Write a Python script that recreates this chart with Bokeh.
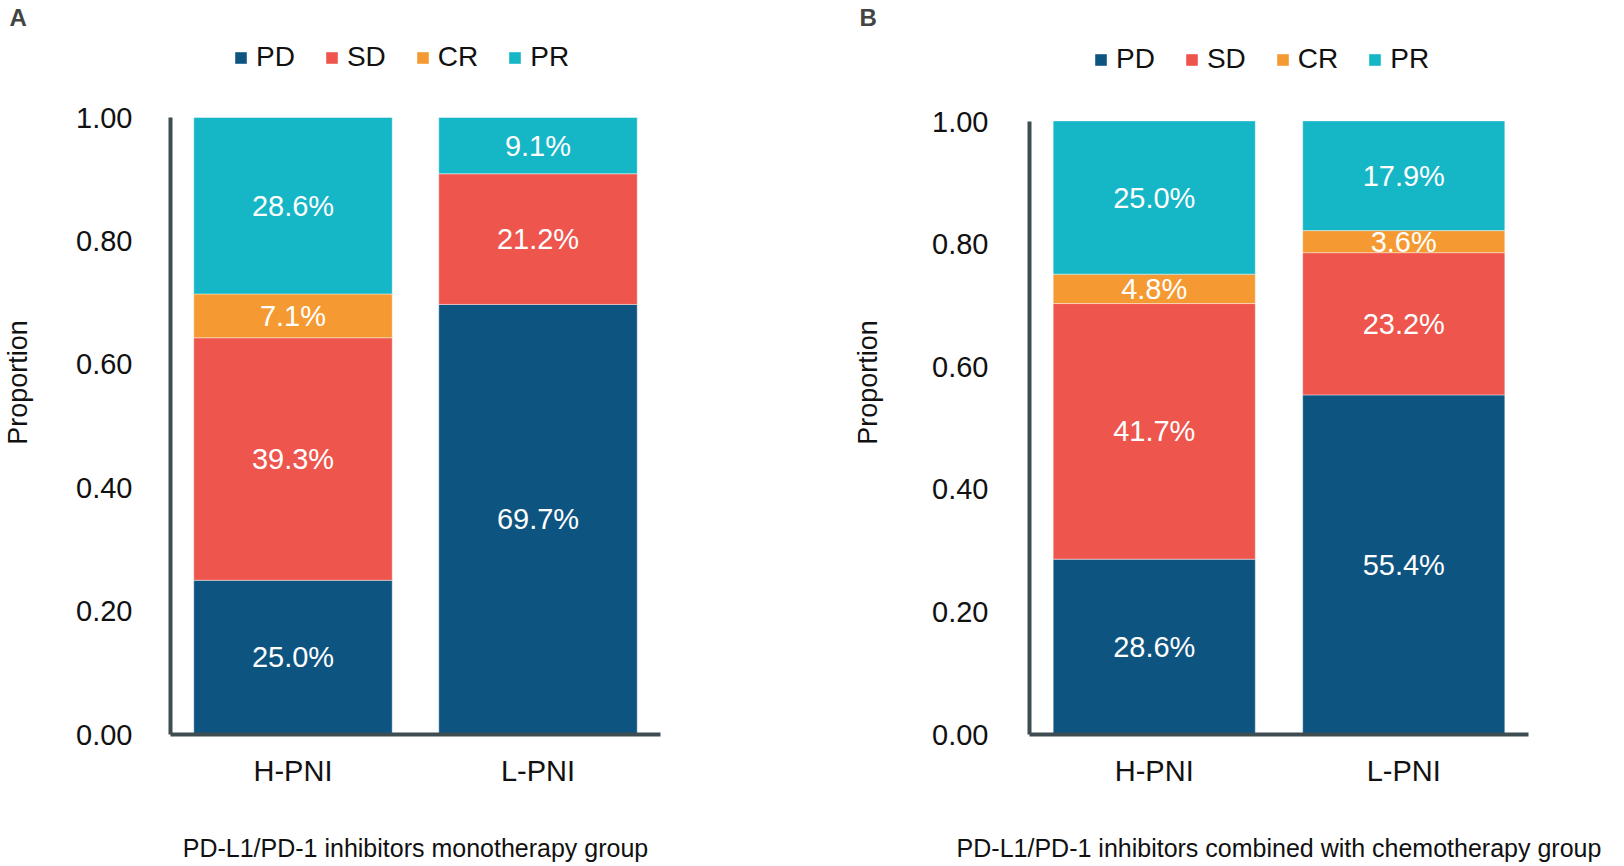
from bokeh.plotting import figure
from bokeh.models import (ColumnDataSource, FactorRange, Range1d, FixedTicker, Legend,
                          LegendItem, LabelSet, CustomJSTickFormatter)
from bokeh.core.properties import value
from bokeh.layouts import row
from bokeh.embed import file_html
from bokeh.resources import INLINE

# ---------------- data ----------------
categories = ["H-PNI", "L-PNI"]
responses = ["PD", "SD", "CR", "PR"]
colors = ["#0E5480", "#EE554C", "#F59A32", "#15B6C6"]

mono_PD = [0.250, 0.697]
mono_SD = [0.393, 0.212]
mono_CR = [0.071, 0.000]
mono_PR = [0.286, 0.091]

combo_PD = [0.286, 0.554]
combo_SD = [0.417, 0.232]
combo_CR = [0.048, 0.036]
combo_PR = [0.250, 0.179]

y_ticks = [0.0, 0.2, 0.4, 0.6, 0.8, 1.0]

panel_letters = ["A", "B"]
group_titles = ["PD-L1/PD-1 inhibitors monotherapy group",
                "PD-L1/PD-1 inhibitors combined with chemotherapy group"]

FONT = "Liberation Sans"
AXIS_COLOR = "#3E4D52"

HEIGHT = 864
FRAME_TOP = 30        # px from figure top to top of plotting frame
BORDER_BOTTOM = 130   # px from x axis line to figure bottom


def make_panel(series, letter, title, width, border_left, unit_top, legend_x, legend_mid,
               tick_standoff, ylabel_standoff, letter_offset):
    frame_bottom = HEIGHT - BORDER_BOTTOM
    frame_h = frame_bottom - FRAME_TOP
    unit_px = frame_bottom - unit_top                     # pixels for 0 -> 1
    y_max = frame_h / unit_px                             # room above 1.0 for legend

    data = {"cat": categories}
    for r, vals in zip(responses, series):
        data[r] = vals
    src = ColumnDataSource(data)

    p = figure(x_range=FactorRange(*categories, range_padding=0),
               y_range=Range1d(0, y_max), width=width, height=HEIGHT,
               output_backend="svg", toolbar_location=None,
               min_border_left=border_left, min_border_right=width - border_left - 499,
               min_border_top=FRAME_TOP, min_border_bottom=BORDER_BOTTOM)
    p.outline_line_color = None
    p.xgrid.grid_line_color = None
    p.ygrid.grid_line_color = None
    p.background_fill_color = "white"

    # panel letter as the plot title
    p.title.text = letter
    p.title.text_font = FONT
    p.title.text_font_size = "24px"
    p.title.text_font_style = "bold"
    p.title.align = "left"
    p.title.offset = letter_offset
    p.title.standoff = 0

    rends = p.vbar_stack(responses, x="cat", width=0.81, color=colors, source=src,
                         line_color="white", line_width=0.6, line_alpha=0.7)

    # percentage labels at segment centres
    xs, ys, txt = [], [], []
    for i, c in enumerate(categories):
        base = 0.0
        for vals in series:
            v = vals[i]
            if v > 0:
                xs.append(c)
                ys.append(base + v / 2)
                txt.append(f"{v * 100:.1f}%")
            base += v
    lsrc = ColumnDataSource(dict(x=xs, y=ys, t=txt))
    p.add_layout(LabelSet(x="x", y="y", text="t", source=lsrc, text_color="white",
                          text_font=value(FONT), text_font_size="29px",
                          text_align="center", text_baseline="middle"))

    # axes
    p.yaxis.ticker = FixedTicker(ticks=y_ticks)
    p.yaxis.bounds = (0, 1)
    p.yaxis.formatter = CustomJSTickFormatter(code="return tick.toFixed(2);")
    for ax in (p.xaxis[0], p.yaxis[0]):
        ax.axis_line_color = AXIS_COLOR
        ax.axis_line_width = 4
        ax.major_tick_line_color = None
        ax.minor_tick_line_color = None
        ax.major_label_text_font = FONT
        ax.major_label_text_font_size = "29px"
        ax.major_label_text_color = "#111111"
        ax.axis_label_text_font = FONT
        ax.axis_label_text_font_style = "normal"
        ax.axis_label_text_color = "#111111"
    p.yaxis.major_label_standoff = tick_standoff
    p.xaxis.major_label_standoff = 14
    p.yaxis.axis_label = "Proportion"
    p.yaxis.axis_label_text_font_size = "27px"
    p.yaxis.axis_label_standoff = ylabel_standoff
    p.xaxis.axis_label = title
    p.xaxis.axis_label_text_font_size = "25px"
    p.xaxis.axis_label_standoff = 44

    # legend in the space above the bars (location = bottom-left corner, frame px)
    legend_h = 32
    legend_bottom = frame_bottom - (legend_mid + legend_h / 2)
    items = [LegendItem(label=r, renderers=[rd]) for r, rd in zip(responses, rends)]
    legend = Legend(items=items, orientation="horizontal",
                    location=(legend_x, legend_bottom),
                    glyph_width=15, glyph_height=15, label_standoff=8, spacing=29,
                    padding=0, margin=0, border_line_color=None,
                    background_fill_alpha=0, label_text_font=FONT,
                    label_text_font_size="28px", label_text_color="#111111",
                    label_height=30)
    p.add_layout(legend)
    return p


pA = make_panel([mono_PD, mono_SD, mono_CR, mono_PR], panel_letters[0], group_titles[0],
                width=850, border_left=161, unit_top=117, legend_x=63, legend_mid=57,
                tick_standoff=32, ylabel_standoff=40, letter_offset=-161)
pB = make_panel([combo_PD, combo_SD, combo_CR, combo_PR], panel_letters[1], group_titles[1],
                width=758, border_left=179, unit_top=121, legend_x=64, legend_mid=59,
                tick_standoff=35, ylabel_standoff=46, letter_offset=-170)

layout = row(pA, pB)
open("out.html", "w").write(file_html(layout, INLINE))
